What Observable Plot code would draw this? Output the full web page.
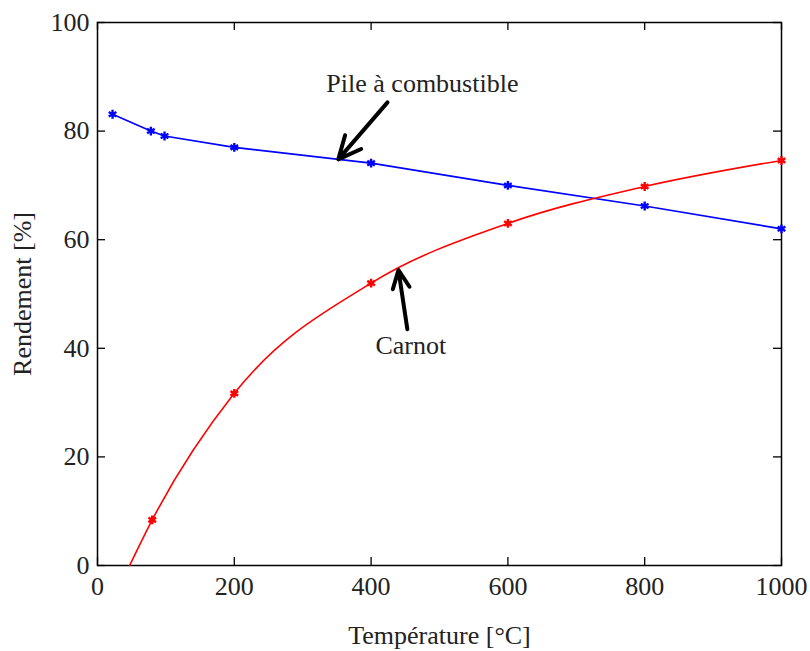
<!DOCTYPE html>
<html>
<head>
<meta charset="utf-8">
<script src="https://cdn.jsdelivr.net/npm/d3@7"></script>
<script src="https://cdn.jsdelivr.net/npm/@observablehq/plot@0.6"></script>
<style>
  html, body { margin: 0; padding: 0; background: #fff; }
  #chart svg { display: block; }
</style>
</head>
<body>
<div id="chart"></div>
<script>
// Pile à combustible (fuel cell) efficiency
const pileT   = [22, 78, 98, 200, 400, 600, 800, 1000];
const pileEta = [83.1, 80, 79.1, 77, 74.1, 70, 66.2, 62];
// Carnot efficiency curve
const carnotT   = [47, 80, 200, 400, 600, 800, 1000];
const carnotEta = [0, 8.4, 31.7, 52, 63, 69.8, 74.6];
// markers on the Carnot curve
const carnotMarkT   = [80, 200, 400, 600, 800, 1000];
const carnotMarkEta = [8.4, 31.7, 52, 63, 69.8, 74.6];
// tick values
const xTicks = [0, 200, 400, 600, 800, 1000];
const yTicks = [0, 20, 40, 60, 80, 100];
// annotations: label text, label position, arrow tail and head (data units)
const annoLabels = ["Pile à combustible", "Carnot"];
const annoLabelT = [475, 458];
const annoLabelEta = [88.7, 40.4];
const arrowT1 = [424, 453];
const arrowEta1 = [85.3, 43.5];
const arrowT2 = [352, 440];
const arrowEta2 = [74.8, 54.4];

const pile = pileT.map((t, i) => ({t, eta: pileEta[i]}));
const carnot = carnotT.map((t, i) => ({t, eta: carnotEta[i]}));
const carnotMarks = carnotMarkT.map((t, i) => ({t, eta: carnotMarkEta[i]}));
const annos = annoLabels.map((label, i) => ({
  label, lx: annoLabelT[i], ly: annoLabelEta[i],
  x1: arrowT1[i], y1: arrowEta1[i], x2: arrowT2[i], y2: arrowEta2[i]
}));

const W = 810, H = 651;
const mL = 97, mR = 29, mT = 22, mB = 86;
const fw = W - mL - mR, fh = H - mT - mB;
const tickLen = 8;
const txt = "#222";

const chart = Plot.plot({
  width: W, height: H,
  marginLeft: mL, marginRight: mR, marginTop: mT, marginBottom: mB,
  style: {fontFamily: "'Liberation Serif', 'Times New Roman', serif", fontSize: "26px", color: txt, background: "#fff"},
  x: {domain: [0, 1000]},
  y: {domain: [0, 100]},
  marks: [
    Plot.axisX({ticks: xTicks, tickFormat: d => String(d), tickSize: 0, tickPadding: 11, fontSize: 26,
      label: "Température [°C]", labelAnchor: "center", labelOffset: 78, labelArrow: "none"}),
    Plot.axisY({ticks: yTicks, tickFormat: d => String(d), tickSize: 0, tickPadding: 8, fontSize: 26,
      label: "Rendement [%]", labelAnchor: "center", labelOffset: 85, labelArrow: "none"}),
    // inward ticks on all four sides
    Plot.tickX(xTicks, {x: d => d, insetTop: fh - tickLen, stroke: "black", strokeWidth: 1.3}),
    Plot.tickX(xTicks, {x: d => d, insetBottom: fh - tickLen, stroke: "black", strokeWidth: 1.3}),
    Plot.tickY(yTicks, {y: d => d, insetRight: fw - tickLen, stroke: "black", strokeWidth: 1.3}),
    Plot.tickY(yTicks, {y: d => d, insetLeft: fw - tickLen, stroke: "black", strokeWidth: 1.3}),
    Plot.frame({stroke: "black", strokeWidth: 1.5}),
    // series
    Plot.line(pile, {x: "t", y: "eta", stroke: "#0000ff", strokeWidth: 1.6}),
    Plot.dot(pile, {x: "t", y: "eta", symbol: "asterisk", r: 4.2, stroke: "#0000ff", strokeWidth: 2.4}),
    Plot.line(carnot, {x: "t", y: "eta", stroke: "#ff0000", strokeWidth: 1.6, curve: "monotone-x"}),
    Plot.dot(carnotMarks, {x: "t", y: "eta", symbol: "asterisk", r: 4.2, stroke: "#ff0000", strokeWidth: 2.4}),
    // annotations
    Plot.arrow(annos, {x1: "x1", y1: "y1", x2: "x2", y2: "y2", stroke: "black", strokeWidth: 4, headLength: 14, headAngle: 50}),
    Plot.text(annos, {x: "lx", y: "ly", text: "label", fontSize: 26, fill: txt, fontWeight: (d, i) => i === 0 ? "bold" : "normal"})
  ]
});
document.getElementById("chart").appendChild(chart);
</script>
</body>
</html>
